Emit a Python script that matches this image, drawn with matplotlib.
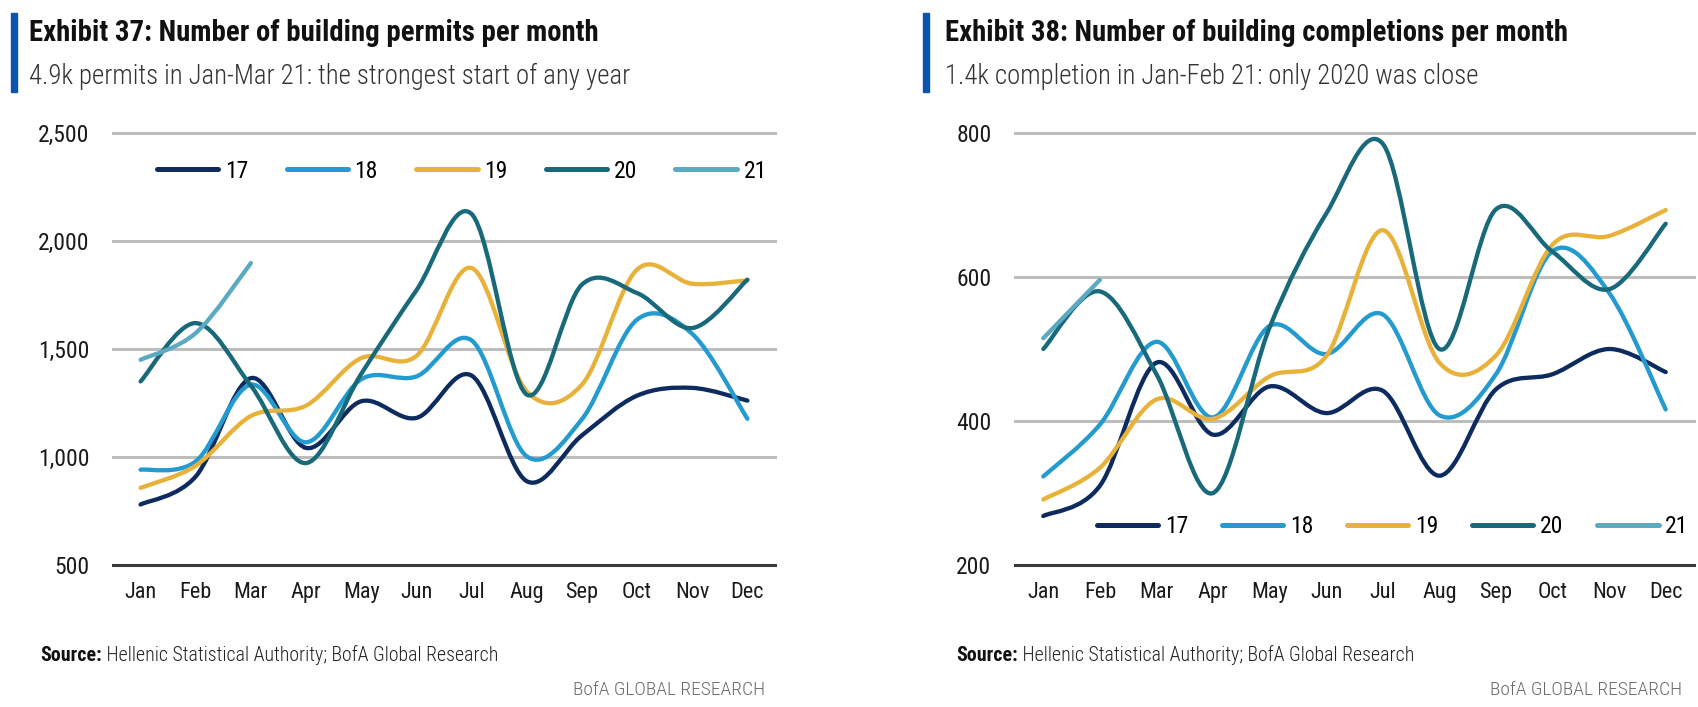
import numpy as np
import matplotlib
matplotlib.use("Agg")
import matplotlib.pyplot as plt
from matplotlib.path import Path
from matplotlib.patches import PathPatch, Rectangle
from matplotlib.lines import Line2D

NARROW = ['Roboto Condensed', 'DejaVu Sans']
plt.rcParams['font.family'] = NARROW

# data
months = ["Jan", "Feb", "Mar", "Apr", "May", "Jun", "Jul", "Aug", "Sep", "Oct", "Nov", "Dec"]
years = ["17", "18", "19", "20", "21"]
colors = ["#0d2b5e", "#239bd0", "#e8b23a", "#18697a", "#5ca9c2"]

permits_17 = [780, 910, 1365, 1042, 1258, 1181, 1377, 888, 1100, 1284, 1320, 1261]
permits_18 = [941, 980, 1335, 1068, 1360, 1373, 1540, 1003, 1175, 1636, 1570, 1177]
permits_19 = [857, 960, 1190, 1238, 1458, 1468, 1875, 1304, 1335, 1868, 1802, 1818]
permits_20 = [1350, 1620, 1330, 972, 1385, 1772, 2125, 1289, 1798, 1759, 1597, 1821]
permits_21 = [1450, 1574, 1898]

compl_17 = [268, 310, 481, 381, 448, 411, 442, 324, 444, 465, 500, 468]
compl_18 = [323, 395, 510, 405, 532, 493, 548, 408, 465, 636, 578, 416]
compl_19 = [291, 335, 430, 403, 462, 490, 665, 481, 491, 645, 657, 693]
compl_20 = [500, 580, 465, 300, 530, 688, 785, 500, 694, 635, 583, 674]
compl_21 = [515, 596]


def smooth_path(xs, ys):
    # Excel-like smoothed line as cubic Bezier segments
    pts = np.column_stack([xs, ys]).astype(float)
    n = len(pts)
    verts = [pts[0]]
    codes = [Path.MOVETO]
    for i in range(n - 1):
        p_prev = pts[i - 1] if i > 0 else pts[i]
        p_next = pts[i + 2] if i + 2 < n else pts[i + 1]
        c1 = pts[i] + (pts[i + 1] - p_prev) / 6.0
        c2 = pts[i + 1] - (p_next - pts[i]) / 6.0
        verts += [c1, c2, pts[i + 1]]
        codes += [Path.CURVE4] * 3
    return Path(verts, codes)


def draw_chart(ax, series, ylim, yticks, legend_x, legend_y, colspace):
    for vals, c in zip(series, colors):
        p = smooth_path(np.arange(len(vals)), vals)
        ax.add_patch(PathPatch(p, fill=False, edgecolor=c, lw=3.1,
                               capstyle='round', joinstyle='round', zorder=3))
    ax.set_xlim(-0.5, 11.5)
    ax.set_ylim(*ylim)
    for t in yticks[1:]:
        ax.axhline(t, color="#bdbdbd", lw=2.2, clip_on=False, zorder=1)
    ax.set_yticks(yticks)
    ax.set_yticklabels([f"{t:,}" for t in yticks])
    ax.set_xticks(range(12))
    ax.set_xticklabels(months)
    for s in ["top", "right", "left"]:
        ax.spines[s].set_visible(False)
    ax.spines["bottom"].set_color("#3a3a3a")
    ax.spines["bottom"].set_linewidth(2.2)
    ax.tick_params(axis="both", length=0, colors="#1a1a1a")
    ax.tick_params(axis="y", pad=17, labelsize=17)
    ax.tick_params(axis="x", pad=12, labelsize=16)
    handles = [Line2D([], [], color=c, lw=3.6, solid_capstyle='round') for c in colors]
    ax.legend(handles, years, ncol=5, frameon=False, fontsize=17,
              loc="center", bbox_to_anchor=(legend_x, legend_y),
              handlelength=2.6, handletextpad=0.28, columnspacing=colspace,
              borderaxespad=0, borderpad=0)


W, H = 1698, 707
fig = plt.figure(figsize=(W / 100, H / 100), dpi=100)


def fx(px):
    return px / W


def fy(py):
    return 1 - py / H


ax1 = fig.add_axes([fx(113), fy(565), fx(775 - 113), (565 - 133) / H])
ax2 = fig.add_axes([fx(1015), fy(565), fx(1694 - 1015), (565 - 133) / H])

draw_chart(ax1, [permits_17, permits_18, permits_19, permits_20, permits_21],
           (500, 2500), [500, 1000, 1500, 2000, 2500], 0.527, 0.912, 1.62)
draw_chart(ax2, [compl_17, compl_18, compl_19, compl_20, compl_21],
           (200, 800), [200, 400, 600, 800], 0.556, 0.088, 1.43)

# headers and footers
blocks = [
    (11, 29, 40, 765, "Exhibit 37: Number of building permits per month",
     "4.9k permits in Jan-Mar 21: the strongest start of any year"),
    (923, 945, 956, 1682, "Exhibit 38: Number of building completions per month",
     "1.4k completion in Jan-Feb 21: only 2020 was close"),
]
for bar_x, tx, sx, rx, title, sub in blocks:
    fig.patches.append(Rectangle((fx(bar_x), fy(92)), fx(6), (92 - 13) / H,
                                 transform=fig.transFigure, color="#0a55b0"))
    fig.text(fx(tx), fy(33), title, fontsize=20.7, fontweight="bold",
             color="#111111", va="center", ha="left")
    fig.text(fx(tx), fy(76), sub, fontsize=19.3, fontweight="light", color="#333333",
             va="center", ha="left")
    src = fig.text(fx(sx), fy(661), "Source:", fontsize=14.3, fontweight="bold",
                   color="#111111", va="baseline", ha="left")
    fig.add_artist(plt.Annotation(" Hellenic Statistical Authority; BofA Global Research",
                                  xy=(1, 0), xycoords=src, va="bottom", ha="left",
                                  fontsize=14.3, fontweight="light", color="#222222"))
    fig.text(fx(rx), fy(690), "BofA GLOBAL RESEARCH", fontsize=14, fontweight="light",
             color="#6a6a6a", va="center", ha="right")

fig.savefig("out.png", dpi=100)
